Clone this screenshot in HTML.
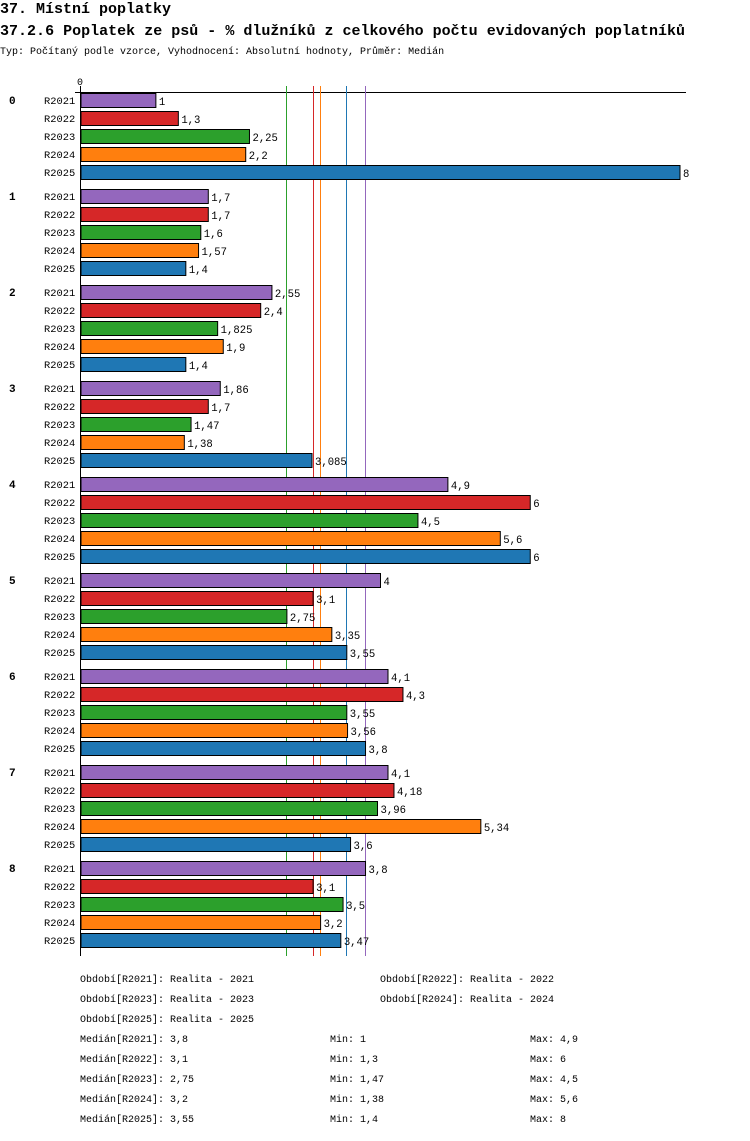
<!DOCTYPE html>
<html><head><meta charset="utf-8"><style>
body{margin:0;background:#fff;width:750px;height:1136px;overflow:hidden;font-family:"Liberation Mono","DejaVu Sans Mono",monospace;}
svg text{font-family:"Liberation Mono","DejaVu Sans Mono",monospace;}
</style></head><body>
<svg id="c" width="750" height="1136" xmlns="http://www.w3.org/2000/svg">
<text x="0" y="13" font-size="15" font-weight="bold" textLength="171">37. Místní poplatky</text>
<text x="0" y="35" font-size="15" font-weight="bold" textLength="685">37.2.6 Poplatek ze psů - % dlužníků z celkového počtu evidovaných poplatníků</text>
<text x="0" y="54" font-size="10">Typ: Počítaný podle vzorce, Vyhodnocení: Absolutní hodnoty, Průměr: Medián</text>
</svg>
<script>
const groups=["0","1","2","3","4","5","6","7","8"];
const series=["R2021","R2022","R2023","R2024","R2025"];
const colors=["#9467bd","#d62728","#2ca02c","#ff7f0e","#1f77b4"];
const values=[
[1,1.3,2.25,2.2,8],
[1.7,1.7,1.6,1.57,1.4],
[2.55,2.4,1.825,1.9,1.4],
[1.86,1.7,1.47,1.38,3.085],
[4.9,6,4.5,5.6,6],
[4,3.1,2.75,3.35,3.55],
[4.1,4.3,3.55,3.56,3.8],
[4.1,4.18,3.96,5.34,3.6],
[3.8,3.1,3.5,3.2,3.47]];
const medians=[3.8,3.1,2.75,3.2,3.55];
const mins=[1,1.3,1.47,1.38,1.4];
const maxs=[4.9,6,4.5,5.6,8];
const periods=["Realita - 2021","Realita - 2022","Realita - 2023","Realita - 2024","Realita - 2025"];
const svg=document.getElementById('c');const NS="http://www.w3.org/2000/svg";
const x=v=>81+v*74.875;
const fmt=v=>String(v).replace('.',',');
function mk(t,a,txt){const e=document.createElementNS(NS,t);for(const k in a)e.setAttribute(k,a[k]);if(txt!==undefined)e.textContent=txt;svg.appendChild(e);return e;}
let e=mk('line',{x1:75,y1:92.5,x2:686,y2:92.5,stroke:'#000','shape-rendering':'crispEdges'});


e=mk('line',{x1:80.5,y1:86,x2:80.5,y2:956,stroke:'#000','shape-rendering':'crispEdges'});


e=mk('text',{x:77,y:85,'font-size':10},'0');


medians.forEach((m,i)=>{const xx=Math.floor(x(m))+0.5;
e=mk('line',{x1:xx,y1:86,x2:xx,y2:956,stroke:colors[i],'stroke-width':1,'shape-rendering':'crispEdges'});

});
groups.forEach((g,gi)=>{const y0=93+gi*96;
e=mk('text',{x:9,y:y0+11,'font-size':11,'font-weight':'bold'},g);


series.forEach((s,si)=>{const y=y0+si*18;const v=values[gi][si];
e=mk('text',{x:44,y:y+11,'font-size':10.4},s);


e=mk('rect',{x:81,y:y+0.5,width:x(v)-81,height:14,fill:colors[si],stroke:'#000','stroke-width':1});


e=mk('text',{x:x(v)+3,y:y+12,'font-size':10.6},fmt(v));

});});
const fs=10;
series.forEach((s,i)=>{const col=i%2,row=Math.floor(i/2);
e=mk('text',{x:80+col*300,y:982+row*20,'font-size':fs},'Období['+s+']: '+periods[i]);

});
series.forEach((s,i)=>{const y=1042+i*20;
e=mk('text',{x:80,y:y,'font-size':fs},'Medián['+s+']: '+fmt(medians[i]));


e=mk('text',{x:330,y:y,'font-size':fs},'Min: '+fmt(mins[i]));


e=mk('text',{x:530,y:y,'font-size':fs},'Max: '+fmt(maxs[i]));

});
</script>
</body></html>
